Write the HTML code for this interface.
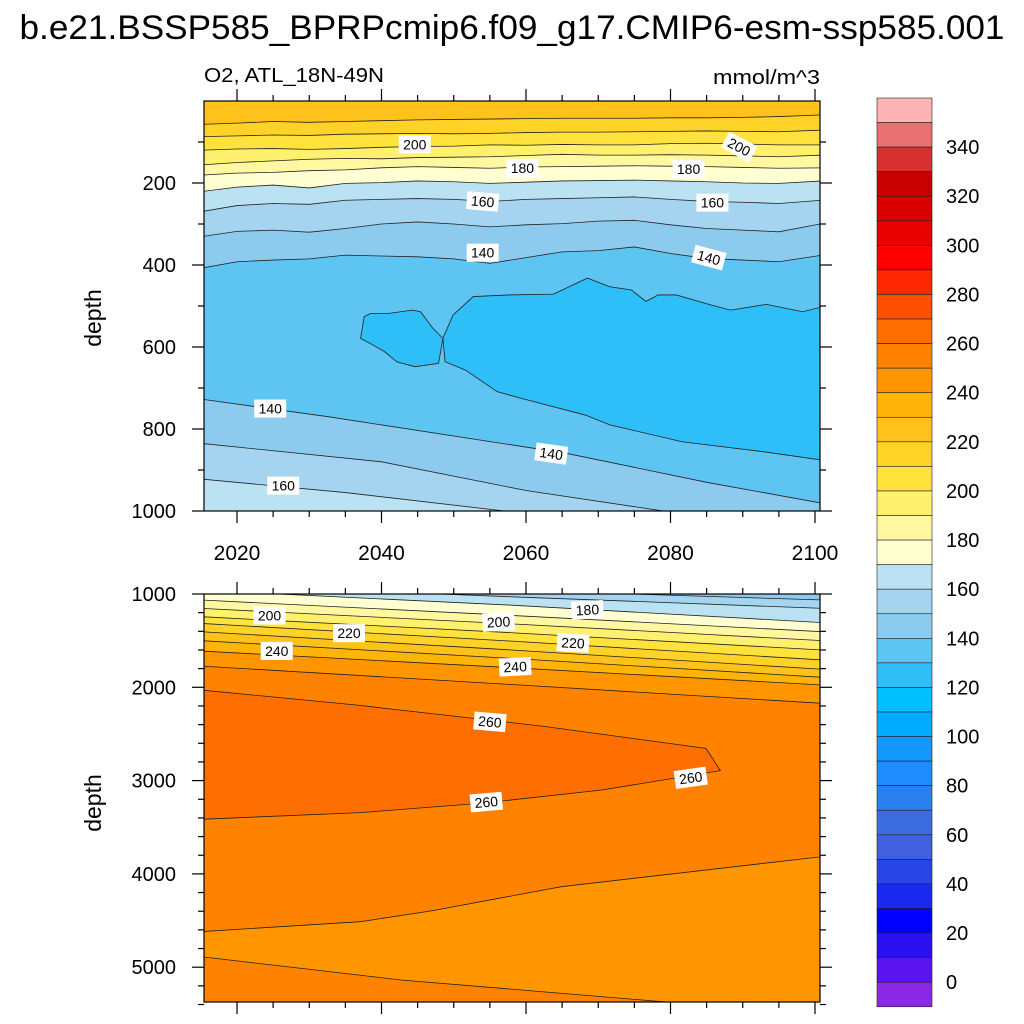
<!DOCTYPE html>
<html><head><meta charset="utf-8"><style>
body{margin:0;background:#fff;}
svg{display:block;font-family:"Liberation Sans",sans-serif;}
</style></head><body>
<svg id="chart" width="1024" height="1024" viewBox="0 0 1024 1024">
<text x="512" y="39" font-size="34" text-anchor="middle" textLength="985" lengthAdjust="spacingAndGlyphs">b.e21.BSSP585_BPRPcmip6.f09_g17.CMIP6-esm-ssp585.001</text>
<text x="204" y="82" font-size="20" textLength="180" lengthAdjust="spacingAndGlyphs">O2, ATL_18N-49N</text>
<text x="820" y="84" font-size="20" text-anchor="end" textLength="107" lengthAdjust="spacingAndGlyphs">mmol/m^3</text>
<text transform="translate(101,318) rotate(-90)" font-size="23" text-anchor="middle">depth</text>
<text transform="translate(101,803) rotate(-90)" font-size="23" text-anchor="middle">depth</text>
<defs>
<clipPath id="clipTop"><rect x="204" y="101" width="616" height="410"/></clipPath>
<clipPath id="clipBot"><rect x="204" y="594" width="616" height="408"/></clipPath>
</defs>
<g id="top" clip-path="url(#clipTop)"></g>
<g id="bot" clip-path="url(#clipBot)"></g>
<g id="axes"></g>
<g id="labels"></g>
<g id="cbar"></g>
</svg>
<script>
// colour levels (-10..350 step 10)
const levelStarts=[-10,0,10,20,30,40,50,60,70,80,90,100,110,120,130,140,150,160,170,180,190,200,210,220,230,240,250,260,270,280,290,300,310,320,330,340,350];
const levelColors=["#8a28e8","#5a14f0","#2a10f0","#0000ff","#1a28f0","#2a46e8","#4060e0","#3c6ce0","#2a7ef0","#1e8cff","#1298ff","#00acff","#00c0ff","#2ebef8","#5ec4f2","#8ccaee","#a4d4f0","#bae2f2","#ffffd2","#fff8a0","#fff06e","#ffe23c","#ffd228","#ffc21a","#ffb40a","#ff9600","#ff8200","#ff6e00","#ff5000","#ff2800","#ff0000","#e80000","#d80000","#c80000","#d83030","#e87070","#ffb4b4"];
const cbarLabels=[0,20,40,60,80,100,120,140,160,180,200,220,240,260,280,300,320,340];

// upper panel (0-1000 m)
const topYears=[2015,2020,2025,2030,2035,2040,2045,2050,2055,2060,2065,2070,2075,2080,2085,2090,2095,2101];
const top220=[57,54,50,52,50,48,46,45,44,43,42,42,42,41,41,40,38,34];
const top210=[87,85,83,84,81,80,79,80,79,77,76,76,75,74,73,74,75,71];
const top200=[120,117,116,118,116,113,111,110,107,108,106,107,107,104,103,105,107,107];
const top190=[156,150,146,142,140,141,138,137,136,133,130,132,132,131,132,134,136,132];
const top180=[181,176,174,170,168,163,160,162,164,161,160,159,158,159,160,162,164,163];
const top170=[221,210,205,212,201,199,195,197,201,198,195,194,193,195,197,200,201,195];
const top160=[270,255,250,252,242,240,238,240,245,240,238,236,234,240,245,247,250,242];
const top150=[331,318,315,320,311,300,295,300,307,302,299,293,291,302,311,315,319,299];
const top140=[408,392,388,385,376,378,380,385,396,382,368,365,356,372,384,388,392,376];
const blobRightYears=[2048.5,2049.9,2052.7,2057.7,2063.8,2068.5,2071.6,2074.6,2076.6,2078.3,2080.8,2085.5,2088.3,2093.3,2098.3,2101,2101,2092.7,2081.6,2071.6,2068.2,2059.3,2056,2051.6,2048.8];
const blobRightDepths=[579,522,477,473,471,432,453,461,489,473,473,497,510,496,514,502,876,855,831,790,766,725,709,656,636];
const blobLeftYears=[2048.5,2047.1,2045.4,2044.3,2041.0,2038.5,2037.6,2037.1,2038.8,2040.4,2042.1,2044.6,2047.9];
const blobLeftDepths=[579,554,514,510,518,518,526,579,595,611,636,648,640];
const low140Years=[2015,2032.6,2065.5,2085,2101];
const low140=[727,770,859,930,981];
const low150Years=[2015,2040,2060,2079,2101];
const low150=[835,880,950,1000,1060];
const low160Years=[2015,2035,2057,2101];
const low160=[922,955,1000,1100];

// lower panel (1000-5400 m)
const botYears=[2015,2058,2101];
const bot150=[850,960,1064];
const bot160=[900,1030,1154];
const bot170=[960,1120,1307];
const bot180=[1064,1230,1404];
const bot190=[1154,1320,1500];
const bot200=[1243,1415,1600];
const bot210=[1315,1505,1707];
const bot220=[1404,1600,1807];
const bot230=[1500,1690,1893];
const bot240=[1611,1790,1975];
const bot250=[1772,1970,2172];
const wedgeYears=[2015,2036.5,2062.1,2084.9,2086.9,2070.5,2053.8,2037.1,2015];
const wedgeDepths=[2029,2190,2415,2654,2893,3101,3243,3343,3415];
const deep250Years=[2015,2037.1,2047.1,2064.9,2101];
const deep250=[4619,4512,4394,4137,3815];
const abyss250Years=[2015,2042.7,2081.6,2101];
const abyss250=[4887,5137,5387,5460];

const NS="http://www.w3.org/2000/svg";
const X0=204,X1=820;
const xs=yr=>237+(yr-2020)*(815-237)/80;
const yTop=d=>101+d*0.41;
const yBot=d=>594+(d-1000)*0.0933;
const col=v=>levelColors[levelStarts.indexOf(v)];

function mk(tag,attrs,parent){const e=document.createElementNS(NS,tag);for(const k in attrs)e.setAttribute(k,attrs[k]);parent.appendChild(e);return e;}
const gTop=document.getElementById('top'),gBot=document.getElementById('bot');

function band(g,years,depths,ys,bottomY,fill,name){
  let pts=[[X0-2,ys(depths[0])]];
  years.forEach((y,i)=>pts.push([xs(y),ys(depths[i])]));
  pts.push([X1+2,ys(depths[depths.length-1])]);
  const line=pts.map(p=>p.join(',')).join(' ');
  const poly=mk('polygon',{points:line+' '+(X1+2)+','+bottomY+' '+(X0-2)+','+bottomY,fill:fill},g);
  
  
  const pl=mk('polyline',{points:line,fill:'none',stroke:'#222',"stroke-width":0.8},g);
  
  
}
function closed(g,years,depths,ys,fill,name){
  const pts=years.map((y,i)=>xs(y)+','+ys(depths[i])).join(' ');
  const p=mk('polygon',{points:pts,fill:fill,stroke:'#222',"stroke-width":0.8},g);
  
  
}

// top panel
const bgT=mk('rect',{x:X0,y:101,width:616,height:410,fill:col(220)},gTop);


[[top220,210],[top210,200],[top200,190],[top190,180],[top180,170],[top170,160],[top160,150],[top150,140],[top140,130]].forEach(([d,c])=>band(gTop,topYears,d,yTop,520,col(c),'top-level-'+(c+10)));
closed(gTop,blobRightYears,blobRightDepths,yTop,col(120),'o2-minimum-zone-east');
closed(gTop,blobLeftYears,blobLeftDepths,yTop,col(120),'o2-minimum-zone-west');
band(gTop,low140Years,low140,yTop,520,col(140),'top-deep-140');
band(gTop,low150Years,low150,yTop,520,col(150),'top-deep-150');
band(gTop,low160Years,low160,yTop,520,col(160),'top-deep-160');

// bottom panel
const bgB=mk('rect',{x:X0,y:594,width:616,height:408,fill:col(140)},gBot);


[[bot150,150],[bot160,160],[bot170,170],[bot180,180],[bot190,190],[bot200,200],[bot210,210],[bot220,220],[bot230,230],[bot240,240],[bot250,250]].forEach(([d,c])=>band(gBot,botYears,d,yBot,1010,col(c),'bot-level-'+c));
closed(gBot,wedgeYears,wedgeDepths,yBot,col(260),'o2-maximum-wedge');
band(gBot,deep250Years,deep250,yBot,1010,col(240),'bot-deep-250');
band(gBot,abyss250Years,abyss250,yBot,1010,col(250),'bot-abyss-250');

// contour labels
const lblText=["200","200","180","180","160","160","140","140","140","140","160","200","220","240","180","200","220","240","260","260","260"];
const lblYear=[2044.6,2089.5,2059.5,2082.5,2054,2085.8,2054,2085.3,2024.6,2063.5,2026.4,2024.5,2035.5,2025.5,2068.5,2056.2,2066.5,2058.5,2055,2082.8,2054.5];
const lblDepth=[106,112,164,166,245,248,370,382,750,860,938,1230,1420,1610,1170,1300,1525,1780,2370,2970,3230];
const lblPanel=[0,0,0,0,0,0,0,0,0,0,0,1,1,1,1,1,1,1,1,1,1];
const lblRot=[0,28,0,0,5,0,0,15,0,8,0,0,0,0,-3,-3,3,-3,5,-8,-5];
const gL=document.getElementById('labels');
lblText.forEach((t,i)=>{
  const cx=xs(lblYear[i]),cy=lblPanel[i]?yBot(lblDepth[i]):yTop(lblDepth[i]);
  const g=mk('g',{transform:`translate(${cx},${cy}) rotate(${lblRot[i]})`},gL);
  
  
  mk('rect',{x:-16,y:-9,width:32,height:18,fill:'#fff'},g);
  const tx=mk('text',{x:0,y:5,"font-size":14,"text-anchor":"middle"},g);tx.textContent=t;
});

// axes
const gA=document.getElementById('axes');
function ln(x1,y1,x2,y2,name){const l=mk('line',{x1,y1,x2,y2,stroke:'#000',"stroke-width":1.2},gA);}
function txt(x,y,s,anchor,size,name){const t=mk('text',{x,y,"font-size":size,"text-anchor":anchor},gA);t.textContent=s;}
const xTickYears=[2020,2040,2060,2080,2100];
const yTopTicks=[200,400,600,800,1000];
const yBotTicks=[1000,2000,3000,4000,5000];
[[101,511],[594,1002]].forEach(([t,b],pi)=>{
  const fr=mk('rect',{x:X0,y:t,width:616,height:b-t,fill:'none',stroke:'#000',"stroke-width":1.2},gA);
  
  
  for(let y=2020;y<=2100;y+=5){const L=(y%20===0)?12:6;const x=xs(y);ln(x,b,x,b+L,'x-tick');ln(x,t,x,t-L,'x-tick-top');}
});
xTickYears.forEach(y=>txt(xs(y),560,String(y),'middle',21,'x-tick-label'));
for(let d=100;d<=1000;d+=100){const L=(d%200===0)?12:6;const y=yTop(d);ln(X0,y,X0-L,y,'y-tick');ln(X1,y,X1+L,y,'y-tick-right');}
yTopTicks.forEach(d=>txt(176,yTop(d)+7,String(d),'end',20,'y-tick-label-top'));
for(let d=1000;d<=5400;d+=200){const L=(d%1000===0)?12:6;const y=yBot(d);ln(X0,y,X0-L,y,'y-tick');ln(X1,y,X1+L,y,'y-tick-right');}
yBotTicks.forEach(d=>txt(176,yBot(d)+7,String(d),'end',20,'y-tick-label-bottom'));

// colorbar
const gC=document.getElementById('cbar');
const cbTop=98,cbH=24.56;
levelColors.slice().reverse().forEach((c,i)=>{
  const r=mk('rect',{x:877,y:cbTop+i*cbH,width:55,height:cbH,fill:c,stroke:'#222',"stroke-width":0.6},gC);
  
  
});
cbarLabels.forEach(v=>{
  const y=cbTop+(350-v)/10*cbH+cbH;
  const t=mk('text',{x:946,y:y+7,"font-size":20},gC);t.textContent=String(v);
  
  
});
</script>
</body></html>
